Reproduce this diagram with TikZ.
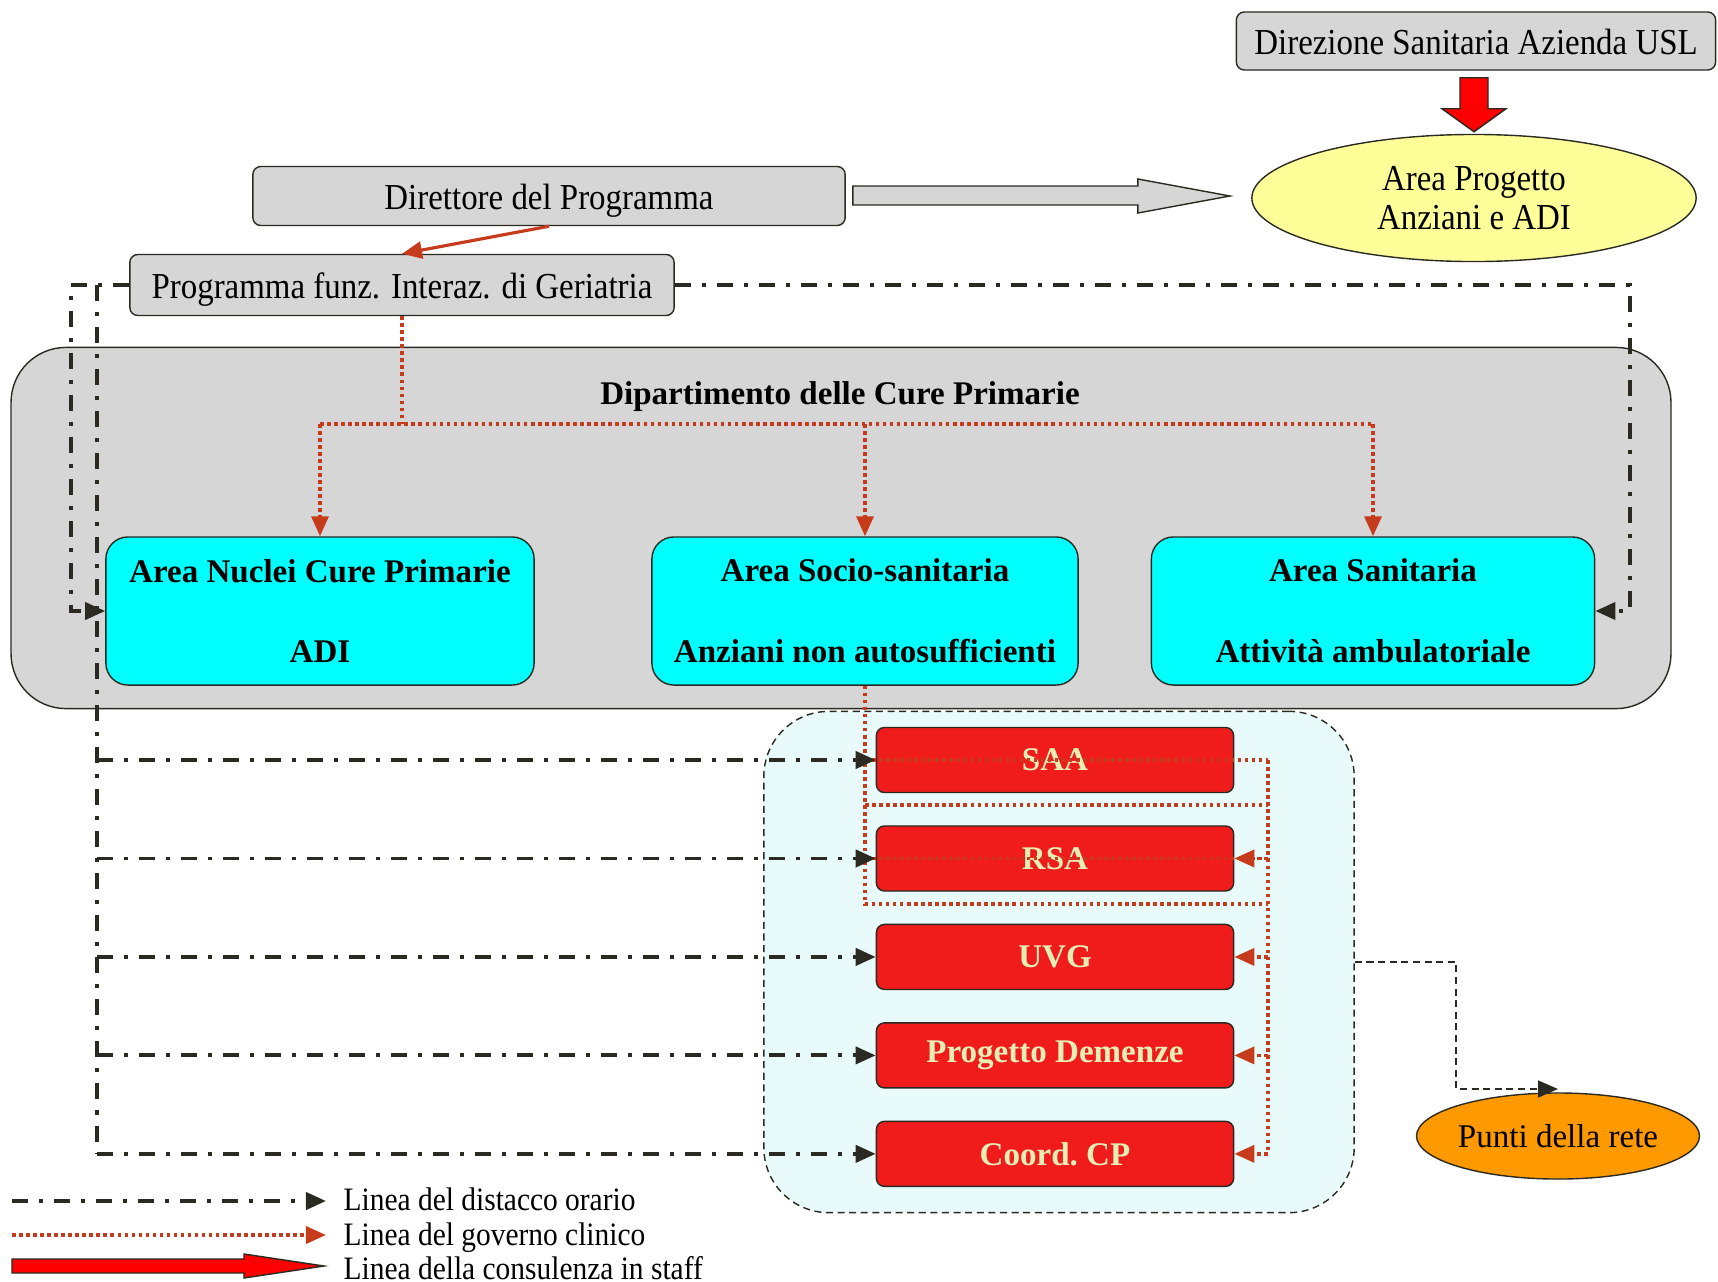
\documentclass[tikz,border=0pt]{standalone}
\usepackage{fontspec}
\setmainfont{Liberation Serif}
\newfontfamily\condfont{Liberation Serif}[FakeStretch=0.9]
\usetikzlibrary{calc}
\usetikzlibrary{positioning}
\usetikzlibrary{shapes.geometric}
\usetikzlibrary{arrows.meta}
\definecolor{boxgray}{HTML}{D6D6D6}
\definecolor{darkline}{HTML}{2A2A22}
\definecolor{rust}{HTML}{C63B1C}
\definecolor{areacyan}{RGB}{0,255,255}
\definecolor{unitred}{HTML}{F01C1C}
\definecolor{unittext}{HTML}{E6EEB4}
\definecolor{zonecyan}{HTML}{E9FAFA}
\definecolor{paleyellow}{HTML}{FFFF99}
\definecolor{puntiorange}{HTML}{FF9900}

\begin{document}
\begin{tikzpicture}[x=0.01cm,y=-0.01cm,
        graybox/.style={draw=darkline,fill=boxgray,rounded corners=0.08cm,inner sep=0pt,
            text height=0.8em,text depth=0.02em,font=\condfont\fontsize{10.4}{12}\selectfont},
        progetto/.style={ellipse,draw=darkline,fill=paleyellow,inner sep=0pt,align=center,
            minimum width=4.44cm,minimum height=1.27cm,font=\condfont\fontsize{10.4}{11.1}\selectfont},
        dept/.style={draw=darkline,fill=boxgray,rounded corners=0.55cm,
            minimum width=16.59cm,minimum height=3.61cm},
        area/.style={draw=darkline,fill=areacyan,rounded corners=0.22cm,inner sep=0pt,align=center,
            minimum height=1.48cm,font=\bfseries\fontsize{9.4}{11.3}\selectfont},
        zone/.style={draw=darkline,fill=zonecyan,rounded corners=0.65cm,
            dash pattern=on 2pt off 1.3pt,minimum width=5.9cm,minimum height=5.01cm},
        unit/.style={draw=darkline,fill=unitred,rounded corners=0.08cm,inner sep=0pt,text=unittext,
            minimum width=3.57cm,minimum height=0.65cm,font=\bfseries\fontsize{9.4}{11}\selectfont},
        punti/.style={ellipse,draw=darkline,fill=puntiorange,inner sep=0pt,
            minimum width=2.67cm,minimum height=0.86cm,font=\fontsize{9.4}{11}\selectfont},
        legenda/.style={anchor=west,inner sep=0pt,font=\condfont\fontsize{9.3}{11}\selectfont},
        distacco/.style={draw=darkline,line width=1.1pt,
            dash pattern=on 1.6mm off 1.1mm on 0.4mm off 1.1mm},
        governo/.style={draw=rust,line width=1pt,dash pattern=on 1pt off 1pt},
        tip/.style={-{Triangle[length=2mm,width=1.7mm]}}]
    \useasboundingbox (0,0) rectangle (1718,1281);

    % vertici
    \node[graybox,minimum width=4.79cm,minimum height=0.58cm] (dirsan) at (1476,41) {Direzione Sanitaria Azienda USL};
    \node[progetto] (apa) at (1474,198) {Area Progetto\\Anziani e ADI};
    \node[graybox,minimum width=5.92cm,minimum height=0.59cm] (dirprog) at (549,196) {Direttore del Programma};
    \node[graybox,minimum width=5.44cm,minimum height=0.61cm] (prog) at (402,285) {Programma funz. Interaz. di Geriatria};

    % dipartimento
    \node[dept] (dept) at (841,528) {};
    \node[font=\bfseries\fontsize{9.4}{11}\selectfont] (depttitle) at (840,397) {Dipartimento delle Cure Primarie};
    \node[area,minimum width=4.28cm] (nuc) at (320,611) {Area Nuclei Cure Primarie\\[11.7pt]ADI};
    \node[area,minimum width=4.26cm] (soc) at (865,611) {Area Socio-sanitaria\\[11.7pt]Anziani non autosufficienti};
    \node[area,minimum width=4.43cm] (san) at (1373,611) {Area Sanitaria\\[11.7pt]Attività ambulatoriale};

    % servizi
    \node[zone] (zone) at (1059,962) {};
    \node[unit] (saa) at (1055,760) {SAA};
    \node[unit,below=0.32cm of saa] (rsa) {RSA};
    \node[unit,below=0.32cm of rsa] (uvg) {UVG};
    \node[unit,below=0.32cm of uvg] (dem) {Progetto Demenze};
    \node[unit,below=0.32cm of dem] (coord) {Coord.\ CP};
    \node[punti] (punti) at (1558,1136) {Punti della rete};

    % frecce piene
    \draw[darkline,fill=red] ($(apa.north)+(-14,-56)$) -- ++(28,0) -- ++(0,31) -- ++(18,0)
        -- ($(apa.north)+(0,-2)$) -- ++(-32,-23) -- ++(18,0) -- cycle;
    \draw[darkline,fill=boxgray] ($(dirprog.east)+(7,-10)$) -- ++(285,0) -- ++(0,-7) -- ++(92,17)
        -- ++(-92,17) -- ++(0,-8) -- ++(-285,0) -- cycle;
    \draw[rust,line width=0.9pt,tip] (dirprog.south) -- (prog.north);

    % governo clinico
    \coordinate (bus) at (0,424);
    \coordinate (loop) at (1268,904);
    \draw[governo] (prog.south) -- (prog.south |- bus);
    \draw[governo] (nuc.north |- bus) -- (san.north |- bus);
    \foreach \n in {nuc,soc,san}
        \draw[governo,tip] (\n.north |- bus) -- (\n.north);
    \draw[governo] (soc.south) -- (soc.south |- loop) -- (loop);
    \draw[governo] (soc.south |- 0,805) -- (loop |- 0,805);
    \draw[governo] (loop |- saa.east) -- (loop |- coord.east);
    \draw[governo] (soc.south |- saa.east) -- (loop |- saa.east);
    \draw[governo] (soc.south |- rsa.east) -- (loop |- rsa.east);
    \foreach \n in {rsa,uvg,dem,coord}
        \draw[governo,tip] (loop |- \n.east) -- (\n.east);

    % distacco orario
    \coordinate (lcol) at (71,285);
    \coordinate (spine) at (97,285);
    \coordinate (rcol) at (1630,285);
    \draw[distacco,tip] (prog.west) -- (lcol) |- (nuc.west);
    \draw[distacco] (spine) -- (spine |- coord.west);
    \foreach \n in {saa,rsa,uvg,dem,coord}
        \draw[distacco,tip] (spine |- \n.west) -- (\n.west);
    \draw[distacco,tip] (prog.east) -| (rcol |- san.east) -- (san.east);

    % rete
    \coordinate (pk) at (1456,1089);
    \draw[darkline,dash pattern=on 2pt off 1.3pt,tip] (zone.east) -| (pk) -- (pk -| punti.north);

    % legenda
    \coordinate (leg1) at (12,1201);
    \coordinate (leg2) at (12,1235);
    \coordinate (leg3) at (12,1266);
    \draw[distacco,tip] (leg1) -- ++(314,0);
    \draw[governo,tip] (leg2) -- ++(314,0);
    \draw[darkline,fill=red] ($(leg3)+(0,-7)$) -- ++(232,0) -- ++(0,-5) -- ++(80,12)
        -- ++(-80,12) -- ++(0,-5) -- ++(-232,0) -- cycle;
    \node[legenda] (txt1) at (343,1199) {Linea del distacco orario};
    \node[legenda] (txt2) at (343,1238) {Linea del governo clinico};
    \node[legenda] (txt3) at (343,1268) {Linea della consulenza in staff};
\end{tikzpicture}
\end{document}
